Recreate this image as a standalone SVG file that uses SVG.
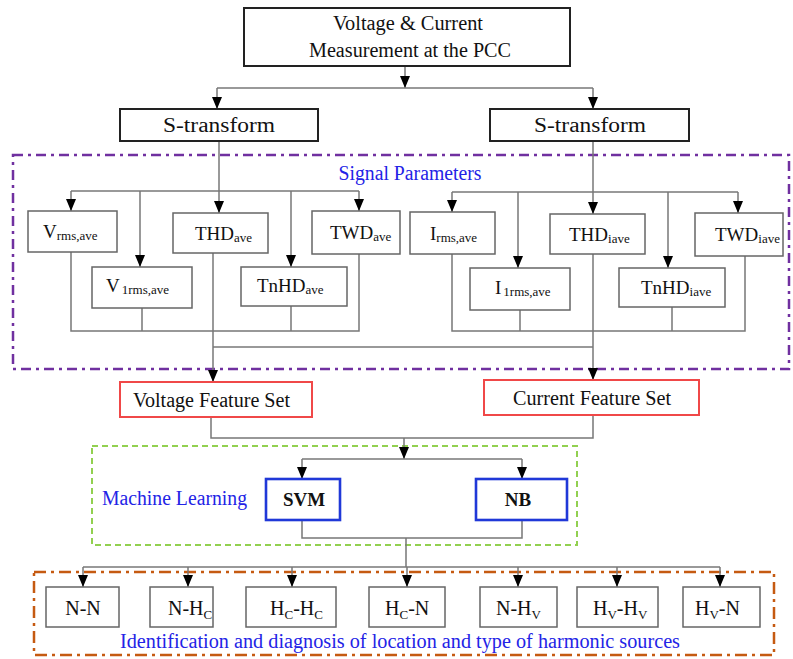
<svg xmlns="http://www.w3.org/2000/svg" width="793" height="659" viewBox="0 0 793 659">
<style>
text{font-family:"Liberation Serif","Times New Roman",serif;fill:#111;}
.bk{fill:#fff;stroke:#222;stroke-width:2;}
.gb{fill:#fff;stroke:#666;stroke-width:1.5;}
.rb{fill:#fff;stroke:#f04848;stroke-width:2;}
.bb{fill:#fff;stroke:#2038d8;stroke-width:2.6;}
.c{fill:none;stroke:#777;stroke-width:1.5;}
.m{font-size:19px;}
.s{font-size:13px;}
.t{font-size:20px;}
.blue{fill:#2323e6;font-size:20px;}
.sb{font-size:13px;}
</style>
<defs>
<marker id="ah" viewBox="0 0 12 10" refX="12" refY="5" markerWidth="12" markerHeight="10" markerUnits="userSpaceOnUse" orient="auto"><path d="M0,0 L12,5 L0,10 z" fill="#000"/></marker>
</defs>

<!-- region frames -->
<g id="signal-parameters-frame">
<rect x="13" y="155" width="776" height="214" fill="none" stroke="#7030a0" stroke-width="2.5" stroke-dasharray="10 5 3 5"/>
<text class="blue" x="410" y="180" text-anchor="middle" textLength="143" lengthAdjust="spacingAndGlyphs">Signal Parameters</text>
</g>
<g id="machine-learning-frame">
<rect x="92" y="446" width="485" height="99" fill="none" stroke="#92d050" stroke-width="2" stroke-dasharray="6 4"/>
<text class="blue" x="102" y="505" textLength="145" lengthAdjust="spacingAndGlyphs">Machine Learning</text>
</g>
<g id="identification-frame">
<rect x="34" y="572" width="740" height="83" fill="none" stroke="#c55a11" stroke-width="2.5" stroke-dasharray="12 5 3 5"/>
<text class="blue" x="120" y="648" textLength="560" lengthAdjust="spacingAndGlyphs">Identification and diagnosis of location and type of harmonic sources</text>
</g>

<!-- connectors -->
<g id="connectors">
<path class="c" d="M405,66 V88" marker-end="url(#ah)"/>
<path class="c" d="M217,88 H593"/>
<path class="c" d="M217,88 V109" marker-end="url(#ah)"/>
<path class="c" d="M593,88 V109" marker-end="url(#ah)"/>
<path class="c" d="M219,141 V213" marker-end="url(#ah)"/>
<path class="c" d="M71,191 H359"/>
<path class="c" d="M71,191 V211" marker-end="url(#ah)"/>
<path class="c" d="M140,191 V267" marker-end="url(#ah)"/>
<path class="c" d="M291,191 V267" marker-end="url(#ah)"/>
<path class="c" d="M359,191 V211" marker-end="url(#ah)"/>
<path class="c" d="M71,252 V331 H359 V254 M142,308 V331 M291,306 V331"/>
<path class="c" d="M213,253 V382" marker-end="url(#ah)"/>
<path class="c" d="M213,347 H593"/>
<path class="c" d="M593,141 V214" marker-end="url(#ah)"/>
<path class="c" d="M452,192 H738"/>
<path class="c" d="M452,192 V212" marker-end="url(#ah)"/>
<path class="c" d="M518,192 V268" marker-end="url(#ah)"/>
<path class="c" d="M668,192 V268" marker-end="url(#ah)"/>
<path class="c" d="M738,192 V213" marker-end="url(#ah)"/>
<path class="c" d="M452,254 V331 H745 V256 M520,310 V331 M672,307 V331"/>
<path class="c" d="M593,254 V380" marker-end="url(#ah)"/>
<path class="c" d="M211,417 V438 H593 V415"/>
<path class="c" d="M404,438 V459" marker-end="url(#ah)"/>
<path class="c" d="M302,459 H522"/>
<path class="c" d="M302,459 V479" marker-end="url(#ah)"/>
<path class="c" d="M522,459 V479" marker-end="url(#ah)"/>
<path class="c" d="M302,520 V538 H522 V520 M406,538 V567"/>
<path class="c" d="M83,567 H720"/>
<path class="c" d="M83,567 V587" marker-end="url(#ah)"/>
<path class="c" d="M188,567 V587" marker-end="url(#ah)"/>
<path class="c" d="M292,567 V587" marker-end="url(#ah)"/>
<path class="c" d="M407,567 V587" marker-end="url(#ah)"/>
<path class="c" d="M518,567 V587" marker-end="url(#ah)"/>
<path class="c" d="M617,567 V587" marker-end="url(#ah)"/>
<path class="c" d="M720,567 V587" marker-end="url(#ah)"/>
</g>

<!-- nodes -->
<g id="measurement">
<rect class="bk" x="244" y="8" width="326" height="58"/>
<text class="t" x="408" y="30" text-anchor="middle" textLength="150" lengthAdjust="spacingAndGlyphs">Voltage &amp; Current</text>
<text class="t" x="410" y="57" text-anchor="middle" textLength="202" lengthAdjust="spacingAndGlyphs">Measurement at the PCC</text>
</g>
<g id="s-transform-v">
<rect class="bk" x="120" y="109" width="198" height="32"/>
<text class="t" x="219" y="132" text-anchor="middle" textLength="112" lengthAdjust="spacingAndGlyphs">S-transform</text>
</g>
<g id="s-transform-i">
<rect class="bk" x="490" y="109" width="199" height="32"/>
<text class="t" x="590" y="132" text-anchor="middle" textLength="112" lengthAdjust="spacingAndGlyphs">S-transform</text>
</g>

<g id="vrms">
<rect class="gb" x="28" y="211" width="89" height="41"/>
<text class="m" x="43" y="238">V<tspan class="s" dy="2">rms,ave</tspan></text>
</g>
<g id="v1rms">
<rect class="gb" x="92" y="267" width="100" height="41"/>
<text class="m" x="106" y="292">V<tspan class="s" dx="2" dy="2">1rms,ave</tspan></text>
</g>
<g id="thd">
<rect class="gb" x="173" y="213" width="95" height="40"/>
<text class="m" x="195" y="240">THD<tspan class="s" dy="2">ave</tspan></text>
</g>
<g id="tnhd">
<rect class="gb" x="241" y="267" width="106" height="39"/>
<text class="m" x="257" y="292">TnHD<tspan class="s" dy="2">ave</tspan></text>
</g>
<g id="twd">
<rect class="gb" x="312" y="211" width="88" height="43"/>
<text class="m" x="330" y="239">TWD<tspan class="s" dy="2">ave</tspan></text>
</g>

<g id="irms">
<rect class="gb" x="410" y="212" width="85" height="42"/>
<text class="m" x="430" y="240">I<tspan class="s" dy="2">rms,ave</tspan></text>
</g>
<g id="i1rms">
<rect class="gb" x="470" y="268" width="100" height="42"/>
<text class="m" x="495" y="294">I<tspan class="s" dx="2" dy="2">1rms,ave</tspan></text>
</g>
<g id="thdi">
<rect class="gb" x="550" y="214" width="95" height="40"/>
<text class="m" x="569" y="241">THD<tspan class="s" dy="2">iave</tspan></text>
</g>
<g id="tnhdi">
<rect class="gb" x="619" y="268" width="106" height="39"/>
<text class="m" x="641" y="294">TnHD<tspan class="s" dy="2">iave</tspan></text>
</g>
<g id="twdi">
<rect class="gb" x="695" y="213" width="88" height="43"/>
<text class="m" x="715" y="241">TWD<tspan class="s" dy="2">iave</tspan></text>
</g>

<g id="voltage-feature-set">
<rect class="rb" x="120" y="382" width="192" height="35"/>
<text class="t" x="133" y="407" textLength="157" lengthAdjust="spacingAndGlyphs">Voltage Feature Set</text>
</g>
<g id="current-feature-set">
<rect class="rb" x="484" y="380" width="215" height="35"/>
<text class="t" x="513" y="405" textLength="158" lengthAdjust="spacingAndGlyphs">Current Feature Set</text>
</g>

<g id="svm">
<rect class="bb" x="266" y="479" width="74" height="41"/>
<text x="304" y="506" text-anchor="middle" font-size="19" font-weight="bold">SVM</text>
</g>
<g id="nb">
<rect class="bb" x="476" y="479" width="91" height="41"/>
<text x="518" y="506" text-anchor="middle" font-size="19" font-weight="bold">NB</text>
</g>

<g id="n-n">
<rect class="gb" x="46" y="587" width="73" height="40"/>
<text class="t" x="83" y="615" text-anchor="middle">N-N</text>
</g>
<g id="n-hc">
<rect class="gb" x="150" y="587" width="63" height="40"/>
<text class="t" x="168" y="615">N-H<tspan class="sb" dy="4">C</tspan></text>
</g>
<g id="hc-hc">
<rect class="gb" x="246" y="587" width="90" height="40"/>
<text class="t" x="270" y="615">H<tspan class="sb" dy="4">C</tspan><tspan dy="-4">-H</tspan><tspan class="sb" dy="4">C</tspan></text>
</g>
<g id="hc-n">
<rect class="gb" x="369" y="587" width="76" height="40"/>
<text class="t" x="385" y="615">H<tspan class="sb" dy="4">C</tspan><tspan dy="-4">-N</tspan></text>
</g>
<g id="n-hv">
<rect class="gb" x="480" y="587" width="77" height="40"/>
<text class="t" x="496" y="615">N-H<tspan class="sb" dy="4">V</tspan></text>
</g>
<g id="hv-hv">
<rect class="gb" x="577" y="587" width="81" height="40"/>
<text class="t" x="593" y="615">H<tspan class="sb" dy="4">V</tspan><tspan dy="-4">-H</tspan><tspan class="sb" dy="4">V</tspan></text>
</g>
<g id="hv-n">
<rect class="gb" x="683" y="587" width="77" height="40"/>
<text class="t" x="695" y="615">H<tspan class="sb" dy="4">V</tspan><tspan dy="-4">-N</tspan></text>
</g>
</svg>
